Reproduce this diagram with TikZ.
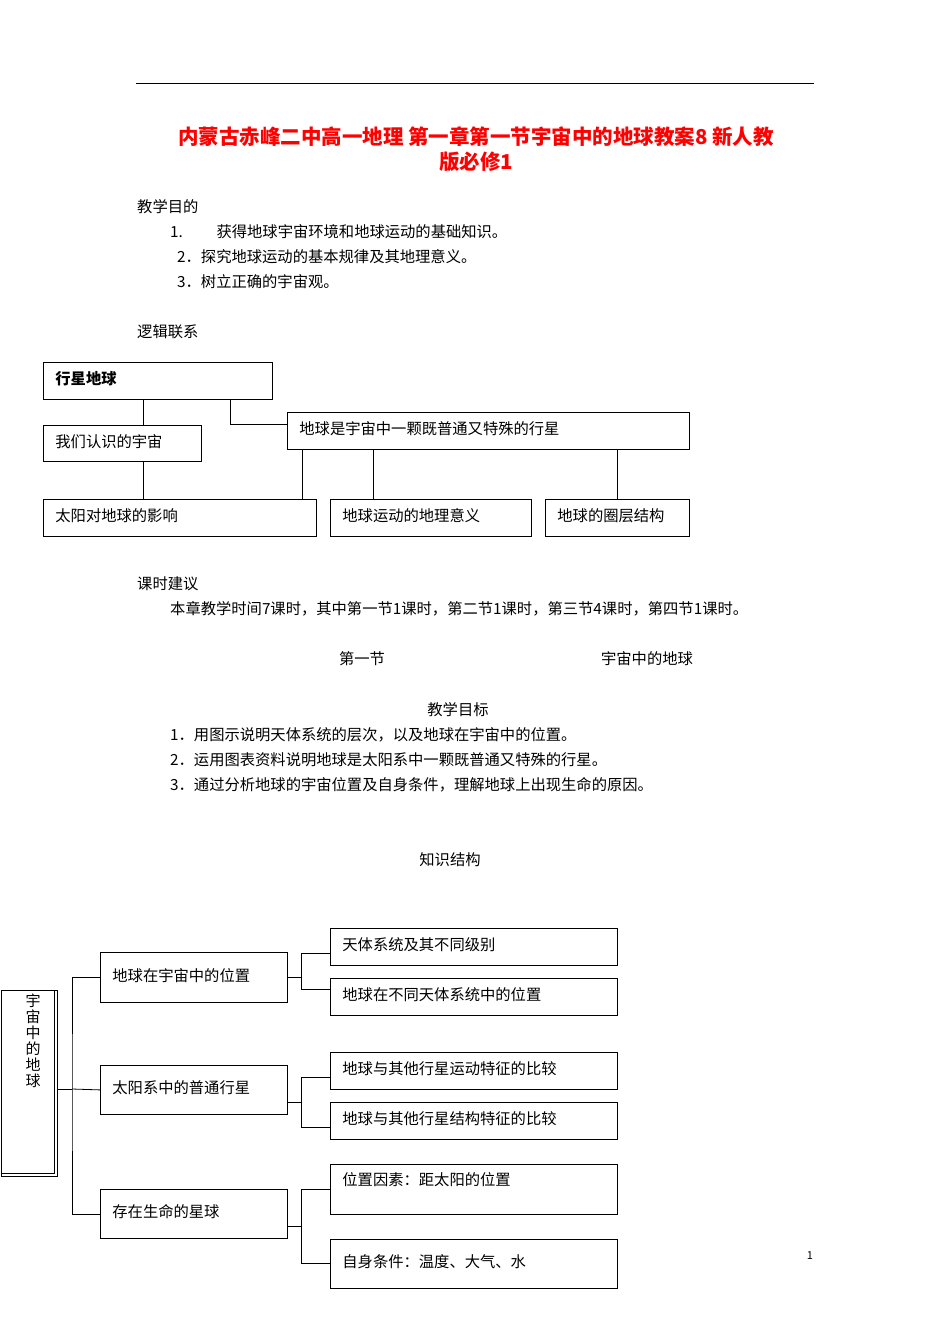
\documentclass[tikz,border=0pt]{standalone}
\usepackage{fontspec}
\setmainfont{Noto Sans CJK SC}
\begin{document}
\begin{tikzpicture}[x=1pt,y=-1pt,
  every node/.style={font=\fontsize{15.3}{16}\selectfont},
  tx/.style={anchor=west,inner sep=0},
  bx/.style={draw,thick,anchor=north west,inner xsep=12pt,inner ysep=0pt,align=left,text height=11pt,text depth=3pt},
  ln/.style={thick}]
\useasboundingbox (0,0) rectangle (950,1344);
\draw[thick] (136,83) -- (814,83);
\node[text=red,font=\fontsize{20.5}{25}\selectfont\bfseries,align=center] (title) at (476,149) {内蒙古赤峰二中高一地理 第一章第一节宇宙中的地球教案8 新人教\\版必修1};
\node[tx] (t1) at (137,207) {教学目的};
\node[tx] (t2) at (170,232) {1.\hspace{2.2em}获得地球宇宙环境和地球运动的基础知识。};
\node[tx] (t3) at (177,257) {2．探究地球运动的基本规律及其地理意义。};
\node[tx] (t4) at (177,282) {3．树立正确的宇宙观。};
\node[tx] (t5) at (137,332) {逻辑联系};
% top diagram
\node[bx,minimum width=229,text width=205,minimum height=37,font=\fontsize{15.3}{16}\selectfont\bfseries] (a) at (43,362) {行星地球};
\node[bx,minimum width=158,text width=134,minimum height=36] (b) at (43,425) {我们认识的宇宙};
\node[bx,minimum width=402,text width=378,minimum height=37] (c) at (287,412) {地球是宇宙中一颗既普通又特殊的行星};
\node[bx,minimum width=273,text width=249,minimum height=37] (d) at (43,499) {太阳对地球的影响};
\node[bx,minimum width=201,text width=177,minimum height=37] (e) at (330,499) {地球运动的地理意义};
\node[bx,minimum width=144,text width=120,minimum height=37] (f) at (545,499) {地球的圈层结构};
\draw[ln] (143,399) coordinate (a1) -- (143,425) coordinate (b1);
\draw[ln] (b.south -| b1) -- (d.north -| b1);
\coordinate (a2) at (230,399);
\draw[ln] (a2) |- (c.west |- 0,424);
\coordinate (c1) at (302,449); \draw[ln] (c1) -- (d.north -| c1);
\coordinate (c2) at (373,449); \draw[ln] (c2) -- (e.north -| c2);
\coordinate (c3) at (617,449); \draw[ln] (c3) -- (f.north -| c3);
\node[tx] (k1) at (137,584) {课时建议};
\node[tx] (k2) at (170,609) {本章教学时间7课时，其中第一节1课时，第二节1课时，第三节4课时，第四节1课时。};
\node (s1) at (362,659) {第一节};
\node (s2) at (647,659) {宇宙中的地球};
\node (g0) at (458,710) {教学目标};
\node[tx] (g1) at (170,735) {1．用图示说明天体系统的层次，以及地球在宇宙中的位置。};
\node[tx] (g2) at (170,760) {2．运用图表资料说明地球是太阳系中一颗既普通又特殊的行星。};
\node[tx] (g3) at (170,785) {3．通过分析地球的宇宙位置及自身条件，理解地球上出现生命的原因。};
\node (z0) at (450,860) {知识结构};
% bottom diagram
\draw[thick] (1,990) rectangle (57,1176);
\node[draw,thick,anchor=north west,minimum width=53,minimum height=183,inner sep=0] (root) at (1,990) {};
\node[anchor=north,align=center,inner sep=0,font=\fontsize{15}{16}\selectfont] (rt) at (33,994) {宇\\宙\\中\\的\\地\\球};
\node[bx,minimum width=187,text width=163,minimum height=50] (m1) at (100,952) {地球在宇宙中的位置};
\node[bx,minimum width=187,text width=163,minimum height=49] (m2) at (100,1065) {太阳系中的普通行星};
\node[bx,minimum width=187,text width=163,minimum height=49] (m3) at (100,1189) {存在生命的星球};
\node[bx,minimum width=287,text width=263,minimum height=37] (r1) at (330,928) {天体系统及其不同级别};
\node[bx,minimum width=287,text width=263,minimum height=37] (r2) at (330,978) {地球在不同天体系统中的位置};
\node[bx,minimum width=287,text width=263,minimum height=37] (r3) at (330,1052) {地球与其他行星运动特征的比较};
\node[bx,minimum width=287,text width=263,minimum height=37] (r4) at (330,1102) {地球与其他行星结构特征的比较};
\node[bx,minimum width=287,text width=263,minimum height=50,text height=11pt,text depth=19pt] (r5) at (330,1164) {位置因素：距太阳的位置};
\node[bx,minimum width=287,text width=263,minimum height=49] (r6) at (330,1239) {自身条件：温度、大气、水};
\coordinate (j0) at (72,1089);
\draw[ln] (57,1089) -- (j0);
\draw[ln] (m1.west) -| (j0) |- (m3.west);
\draw[ln] (j0) -- (m2.west);
\foreach \m/\ra/\rb/\ya/\yb/\yc in {m1/r1/r2/953/989/977, m2/r3/r4/1077/1127/1102, m3/r5/r6/1189/1263/1226}{
  \draw[ln] (\m.east |- 0,\yc) -- (301,\yc);
  \draw[ln] (\ra.west |- 0,\ya) -| (301,\yb) -- (\rb.west |- 0,\yb);
}
\node (pg) at (810,1256) {\fontsize{11}{12}\selectfont 1};
\end{tikzpicture}
\end{document}
